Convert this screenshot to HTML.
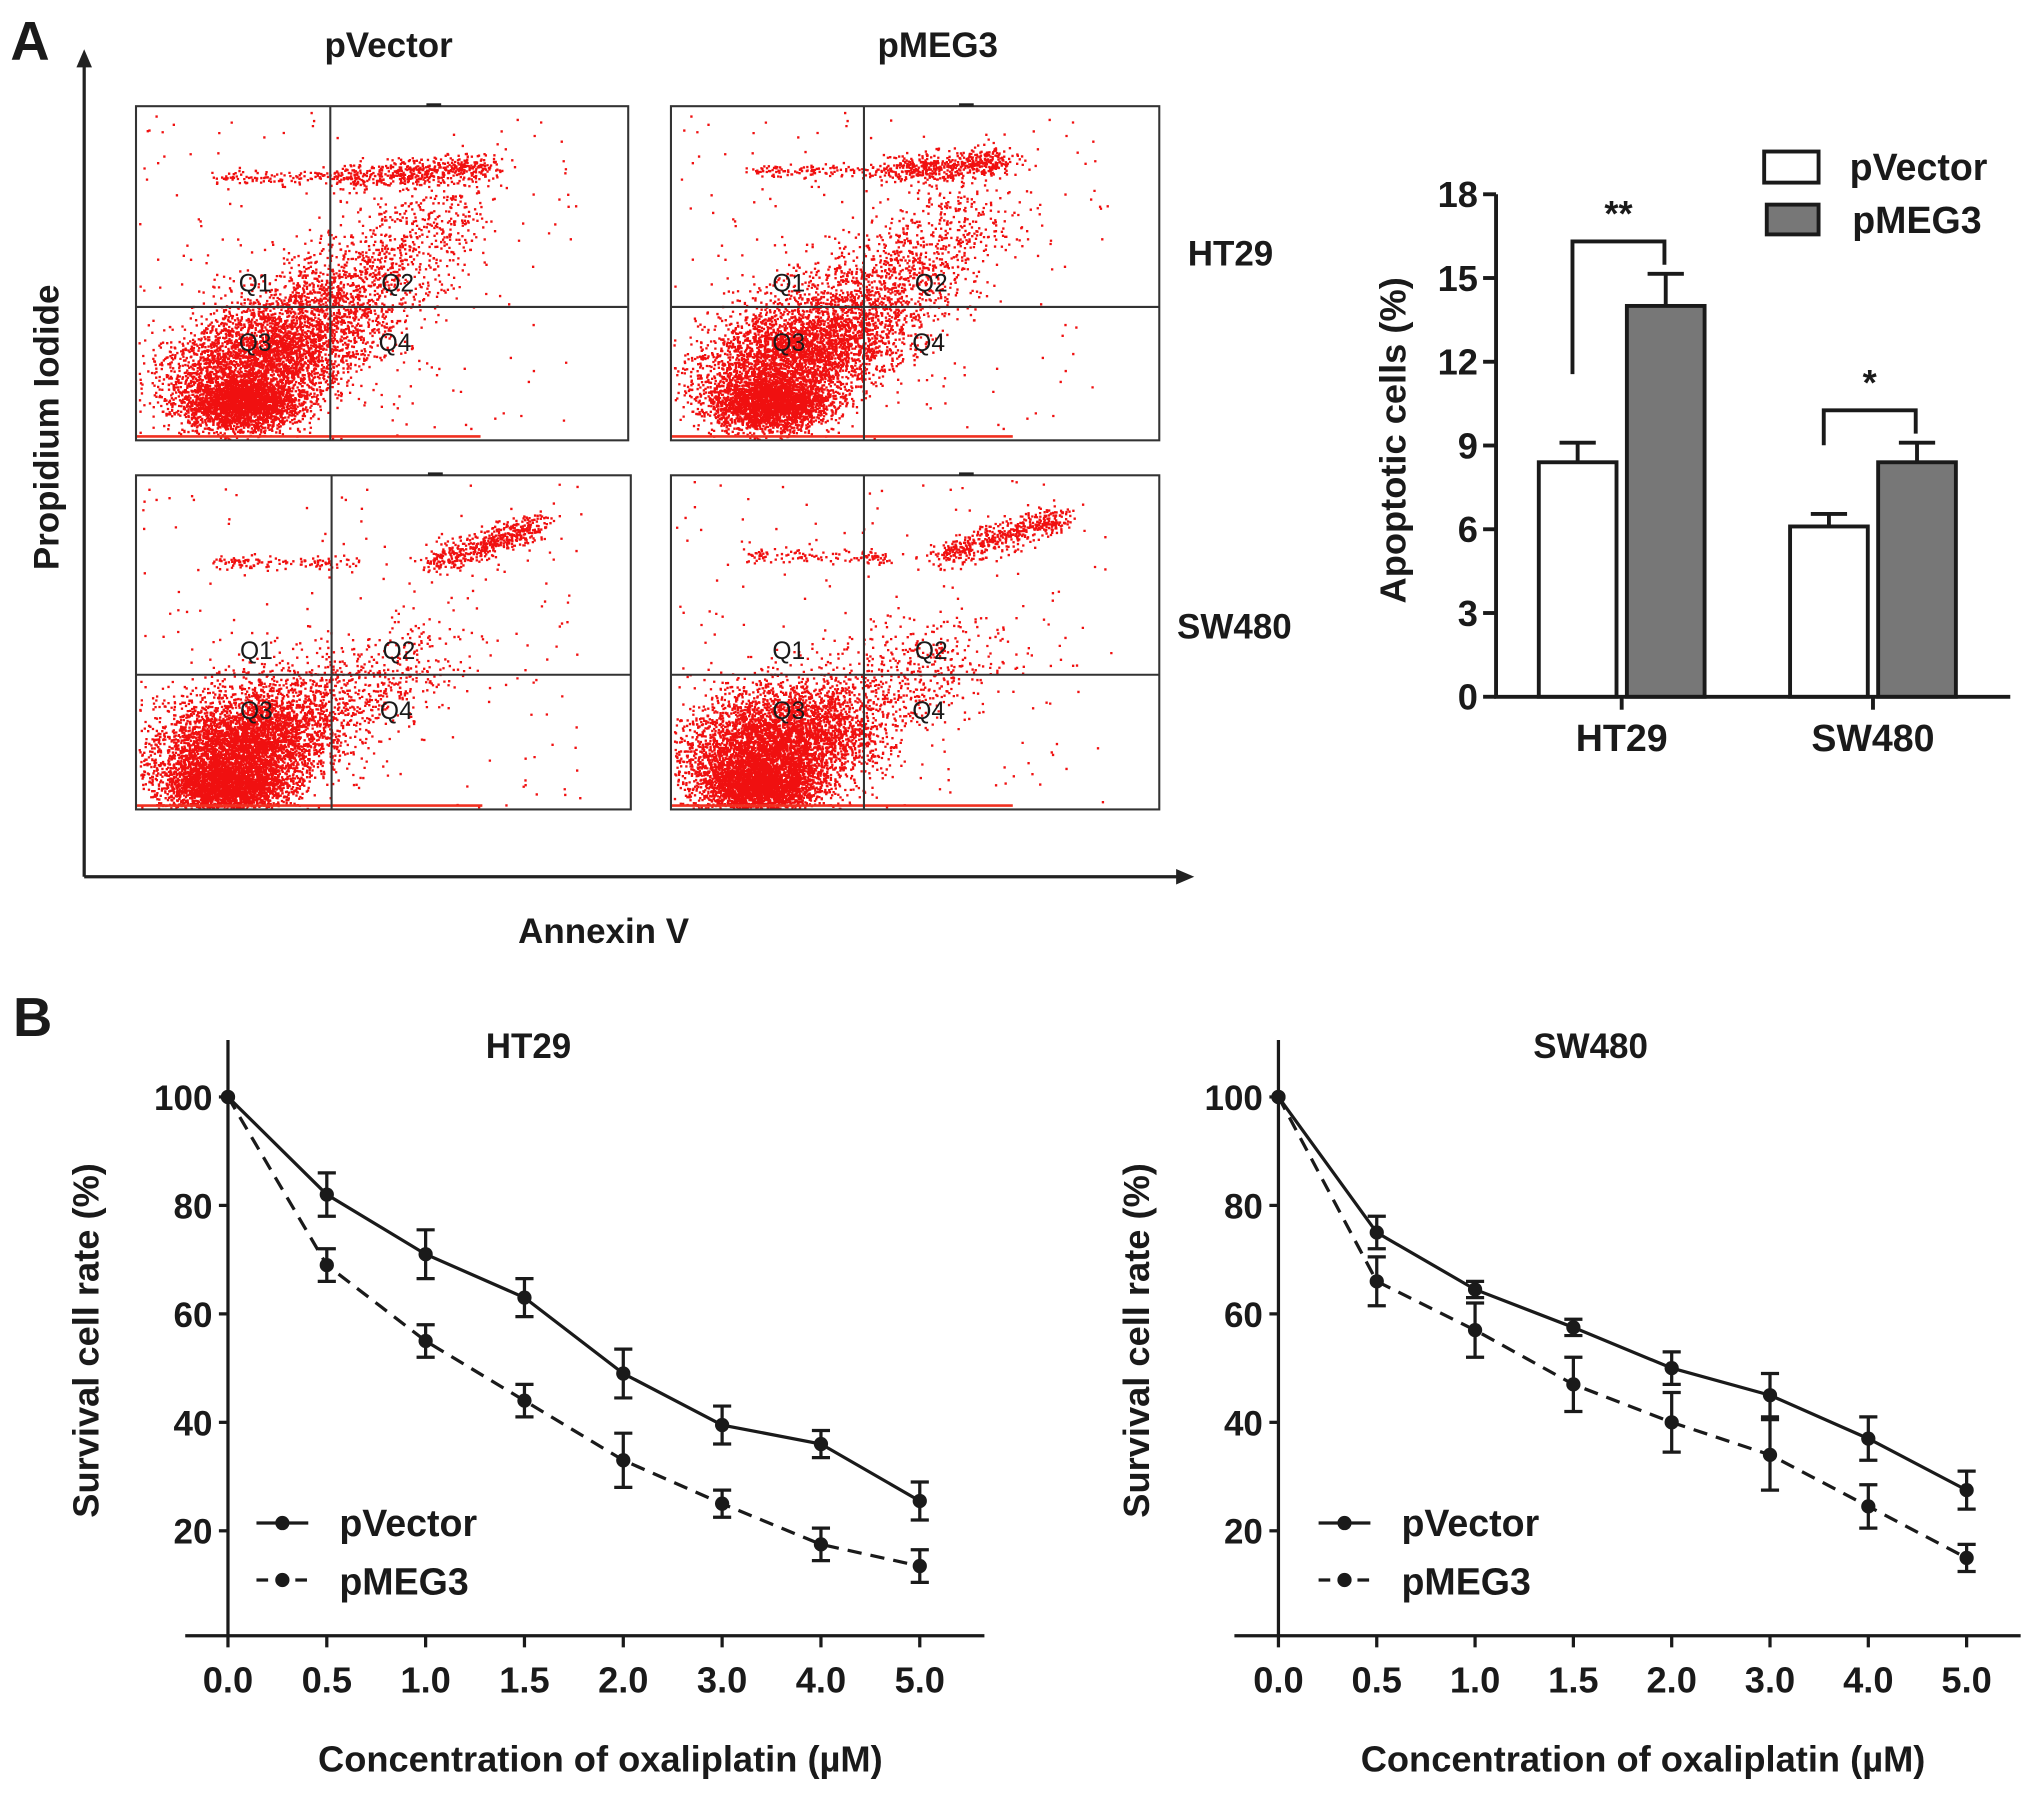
<!DOCTYPE html>
<html><head><meta charset="utf-8"><style>
html,body{margin:0;padding:0;background:#fff;}
svg{display:block;}
text{font-family:"Liberation Sans",Arial,sans-serif;font-weight:bold;fill:#1a1a1a;}
</style></head><body>
<svg id="fig" width="2031" height="1795" viewBox="0 0 1568 1386" preserveAspectRatio="none" xmlns="http://www.w3.org/2000/svg">
<rect width="1568" height="1386" fill="#fff"/>
<text x="8" y="46" font-size="42">A</text>
<text x="10" y="800" font-size="42">B</text>
<g id="flow">
<line x1="65" y1="677" x2="65" y2="44" stroke="#222" stroke-width="2.5"/>
<path d="M59,52 L65,38 L71,52 Z" fill="#222"/>
<line x1="65" y1="677" x2="914" y2="677" stroke="#222" stroke-width="2.5"/>
<path d="M908,671 L922,677 L908,683 Z" fill="#222"/>
<text transform="translate(45,330) rotate(-90)" text-anchor="middle" font-size="27">Propidium Iodide</text>
<text x="466" y="728" text-anchor="middle" font-size="27">Annexin V</text>
<text x="300" y="44" text-anchor="middle" font-size="27">pVector</text>
<text x="724" y="44" text-anchor="middle" font-size="27">pMEG3</text>
<text x="950" y="205" text-anchor="middle" font-size="27">HT29</text>
<text x="953" y="493" text-anchor="middle" font-size="27">SW480</text>
</g>
<g id="bar"></g>
<g id="lineA"></g>
<g id="lineB"></g>
</svg>
<script>
const NS="http://www.w3.org/2000/svg";
// ---- bar chart data ----
const barCategories=["HT29","SW480"];
const barVector=[8.4,6.1];
const barVectorErr=[0.7,0.45];
const barMEG3=[14.0,8.4];
const barMEG3Err=[1.15,0.7];
const barTicks=[0,3,6,9,12,15,18];
const barSig=["**","*"];
// ---- survival data ----
const doseLabels=["0.0","0.5","1.0","1.5","2.0","3.0","4.0","5.0"];
const survTicks=[20,40,60,80,100];
const ht29Vector=[100,82,71,63,49,39.5,36,25.5];
const ht29VectorErr=[0,4,4.5,3.5,4.5,3.5,2.5,3.5];
const ht29MEG3=[100,69,55,44,33,25,17.5,13.5];
const ht29MEG3Err=[0,3,3,3,5,2.5,3,3];
const sw480Vector=[100,75,64.5,57.5,50,45,37,27.5];
const sw480VectorErr=[0,3,1.5,1.5,3,4,4,3.5];
const sw480MEG3=[100,66,57,47,40,34,24.5,15];
const sw480MEG3Err=[0,4.5,5,5,5.5,6.5,4,2.5];

function el(tag,attrs,parent){const e=document.createElementNS(NS,tag);for(const k in attrs)e.setAttribute(k,attrs[k]);parent.appendChild(e);return e;}

// ---- flow cytometry scatter (image texture) ----
let seed=12345;function rnd(){seed=(seed*1103515245+12345)%2147483648;return seed/2147483648;}
function gauss(){let u=0,v=0;while(u===0)u=rnd();v=rnd();return Math.sqrt(-2*Math.log(u))*Math.cos(2*Math.PI*v);}
const flowPanels=[
 {x:105,y:82,w:380,h:258,qx:150,qy:155,name:"ht29-pvector-plot",c:[0.2,0.83],band:[0.42,0.72,0.21],sw:false},
 {x:518,y:82,w:377,h:258,qx:149,qy:155,name:"ht29-pmeg3-plot",c:[0.19,0.83],band:[0.45,0.68,0.19],sw:false},
 {x:105,y:367,w:382,h:258,qx:151,qy:154,name:"sw480-pvector-plot",c:[0.17,0.87],band:[0.6,0.82,0.26],sw:true},
 {x:518,y:367,w:377,h:258,qx:149,qy:154,name:"sw480-pmeg3-plot",c:[0.17,0.87],band:[0.55,0.8,0.24],sw:true}
];
const flow=document.getElementById('flow');
flowPanels.forEach(p=>{
 const g=el('g',{},flow);
 
 
 el('rect',{x:p.x,y:p.y,width:p.w,height:p.h,fill:'#fff'},g);
 let d="";
 function dot(u,v){if(u<0.005||u>0.995||v<0.01||v>0.995)return;d+="M"+(p.x+u*p.w).toFixed(1)+" "+(p.y+v*p.h).toFixed(1)+"h1.8v1.8h-1.8z";}
 const nMain=p.sw?4200:3600;
 for(let i=0;i<nMain;i++){const a=gauss(),b=gauss();const s=Math.abs(gauss());
   let u=p.c[0]+a*0.09+s*(p.sw?0.05:0.08)*(rnd()<0.5?1:1.3);let v=p.c[1]+b*0.065-s*(p.sw?0.09:0.13);dot(u,v);}
 for(let i=0;i<2200;i++){const a=gauss(),b=gauss();dot(p.c[0]+0.01+a*0.06,p.c[1]+0.06+b*0.04);}
 for(let i=0;i<(p.sw?500:900);i++){const t=rnd();dot(p.c[0]+0.15+t*0.3+gauss()*0.06,p.c[1]-0.15-t*(p.sw?0.2:0.4)+gauss()*0.08);}
 for(let i=0;i<500;i++){const t=rnd();const u=p.band[0]+t*(p.band[1]-p.band[0]);dot(u+gauss()*0.02,p.band[2]-(p.sw?t*0.12:t*0.03)+gauss()*0.02);}
 for(let i=0;i<120;i++){dot(0.15+rnd()*0.3,p.band[2]+gauss()*0.01);}
 for(let i=0;i<200;i++){dot(rnd()*0.9,rnd());}
 el('path',{d:d,fill:'#f01010'},g);
 el('line',{x1:p.x,y1:p.y+p.h-3,x2:p.x+p.w*0.7,y2:p.y+p.h-3,stroke:'#f03020','stroke-width':2},g);
 el('rect',{x:p.x,y:p.y,width:p.w,height:p.h,fill:'none',stroke:'#333','stroke-width':1.6},g);
 el('line',{x1:p.x+p.qx,y1:p.y,x2:p.x+p.qx,y2:p.y+p.h,stroke:'#333','stroke-width':1.6},g);
 el('line',{x1:p.x,y1:p.y+p.qy,x2:p.x+p.w,y2:p.y+p.qy,stroke:'#333','stroke-width':1.6},g);
 el('line',{x1:p.x+p.w*0.59,y1:p.y-1,x2:p.x+p.w*0.62,y2:p.y-1,stroke:'#222','stroke-width':2.5},g);
 [["Q1",-58,-19],["Q2",52,-19],["Q3",-58,27],["Q4",50,27]].forEach(q=>{
   const t=el('text',{x:p.x+p.qx+q[1],y:p.y+p.qy+q[2]+7,'text-anchor':'middle','font-size':19,fill:'#444'},g);
   t.style.fontWeight='normal';t.textContent=q[0];
   
   
 });
});

// ---- bar chart ----
(function(){
 const g=document.getElementById('bar');
 const x0=1155,y0=538,yTop=150,vmax=18;
 const Y=v=>y0-(v/vmax)*(y0-yTop);
 const catX=[1252,1446];
 const bw=60;
 const ax=el('path',{d:`M${x0},${yTop} V${y0} H1552`,fill:'none',stroke:'#1a1a1a','stroke-width':3},g);
 
 
 barTicks.forEach(t=>{
  el('line',{x1:x0-10,y1:Y(t),x2:x0,y2:Y(t),stroke:'#1a1a1a','stroke-width':3},g);
  const tx=el('text',{x:x0-14,y:Y(t)+10,'text-anchor':'end','font-size':28},g);tx.textContent=t;
  
  
 });
 barCategories.forEach((c,i)=>{
  const cx=catX[i];
  el('line',{x1:cx,y1:y0,x2:cx,y2:y0+10,stroke:'#1a1a1a','stroke-width':3},g);
  const tl=el('text',{x:cx,y:y0+42,'text-anchor':'middle','font-size':29},g);tl.textContent=c;
  
  
  const xs=[cx-64,cx+4];const vals=[barVector[i],barMEG3[i]];const errs=[barVectorErr[i],barMEG3Err[i]];
  const fills=['#fff','#777'];
  vals.forEach((v,j)=>{
   const bx=xs[j];
   const tipE=Y(v+errs[j]);
   el('line',{x1:bx+bw/2,y1:Y(v),x2:bx+bw/2,y2:tipE,stroke:'#1a1a1a','stroke-width':3},g);
   el('line',{x1:bx+bw/2-14,y1:tipE,x2:bx+bw/2+14,y2:tipE,stroke:'#1a1a1a','stroke-width':3},g);
   const r=el('rect',{x:bx,y:Y(v),width:bw,height:y0-Y(v),fill:fills[j],stroke:'#1a1a1a','stroke-width':3},g);
   
   
  });
  const lx=xs[0]+bw/2-4,rx=xs[1]+bw/2-1;
  const top=Y(Math.max(barMEG3[i]+barMEG3Err[i],barVector[i]+barVectorErr[i]))-25;
  el('path',{d:`M${lx},${Y(barVector[i]+barVectorErr[i])-53} V${top} H${rx} V${top+18}`,fill:'none',stroke:'#1a1a1a','stroke-width':3},g);
  const st=el('text',{x:(lx+rx)/2,y:top-12,'text-anchor':'middle','font-size':28},g);st.textContent=barSig[i];
  
  
 });
 const yt=el('text',{transform:'translate(1085,340) rotate(-90)','text-anchor':'middle','font-size':28},g);yt.textContent='Apoptotic cells (%)';
 
 
 const lg=el('g',{},g);
 
 
 el('rect',{x:1362,y:117,width:42,height:24,fill:'#fff',stroke:'#1a1a1a','stroke-width':3},lg);
 el('rect',{x:1364,y:158,width:40,height:23,fill:'#777',stroke:'#1a1a1a','stroke-width':3},lg);
 const l1=el('text',{x:1428,y:139,'font-size':29},lg);l1.textContent='pVector';
 const l2=el('text',{x:1430,y:180,'font-size':29},lg);l2.textContent='pMEG3';
})();

// ---- survival charts ----
function survival(gid,ax0,title,titleX,vec,vecE,meg,megE,xLeft,xRight,step,legX){
 const g=document.getElementById(gid);
 const y100=847,y20=1182,yAxis=1263;
 const Y=v=>y100+(100-v)*(y20-y100)/80;
 const X=i=>ax0+i*step;
 el('path',{d:`M${ax0},803 V${yAxis} M${xLeft},${yAxis} H${xRight}`,fill:'none',stroke:'#1a1a1a','stroke-width':2.5},g);
 survTicks.forEach(t=>{
  el('line',{x1:ax0-7,y1:Y(t),x2:ax0,y2:Y(t),stroke:'#1a1a1a','stroke-width':2.5},g);
  const tx=el('text',{x:ax0-12,y:Y(t)+10,'text-anchor':'end','font-size':27},g);tx.textContent=t;
  
  
 });
 doseLabels.forEach((l,i)=>{
  el('line',{x1:X(i),y1:yAxis,x2:X(i),y2:yAxis+9,stroke:'#1a1a1a','stroke-width':2.5},g);
  const tx=el('text',{x:X(i),y:yAxis+44,'text-anchor':'middle','font-size':28},g);tx.textContent=l;
  
  
 });
 function series(vals,errs,dash,name){
  const sg=el('g',{},g);
  
  
  const pts=vals.map((v,i)=>X(i)+','+Y(v)).join(' ');
  const pl=el('polyline',{points:pts,fill:'none',stroke:'#1a1a1a','stroke-width':2.5},sg);
  if(dash)pl.setAttribute('stroke-dasharray','11,7');
  vals.forEach((v,i)=>{
   if(errs[i]>0){
    const a=Y(v+errs[i]),b=Y(v-errs[i]);
    el('path',{d:`M${X(i)},${a} V${b} M${X(i)-7},${a} H${X(i)+7} M${X(i)-7},${b} H${X(i)+7}`,fill:'none',stroke:'#1a1a1a','stroke-width':2.5},sg);
   }
   const c=el('circle',{cx:X(i),cy:Y(v),r:5.5,fill:'#1a1a1a'},sg);
   
   
  });
 }
 series(vec,vecE,false,'pvector-line');
 series(meg,megE,true,'pmeg3-line');
 const lg=el('g',{},g);
 
 
 el('line',{x1:legX,y1:1176,x2:legX+40,y2:1176,stroke:'#1a1a1a','stroke-width':2.5},lg);
 el('circle',{cx:legX+20,cy:1176,r:5.5,fill:'#1a1a1a'},lg);
 el('line',{x1:legX,y1:1220,x2:legX+40,y2:1220,stroke:'#1a1a1a','stroke-width':2.5,'stroke-dasharray':'9,6'},lg);
 el('circle',{cx:legX+20,cy:1220,r:5.5,fill:'#1a1a1a'},lg);
 const t1=el('text',{x:legX+64,y:1186,'font-size':29},lg);t1.textContent='pVector';
 const t2=el('text',{x:legX+64,y:1231,'font-size':29},lg);t2.textContent='pMEG3';
 const tt=el('text',{x:titleX,y:817,'text-anchor':'middle','font-size':27},g);tt.textContent=title;
 
 
 const xt=el('text',{x:(xLeft+xRight)/2+12,y:1368,'text-anchor':'middle','font-size':28},g);xt.textContent='Concentration of oxaliplatin (µM)';
 
 
 const yt=el('text',{transform:`translate(${ax0-100},1035) rotate(-90)`,'text-anchor':'middle','font-size':28},g);yt.textContent='Survival cell rate (%)';
 
 
}
survival('lineA',176,'HT29',408,ht29Vector,ht29VectorErr,ht29MEG3,ht29MEG3Err,143,760,76.3,198);
survival('lineB',987,'SW480',1228,sw480Vector,sw480VectorErr,sw480MEG3,sw480MEG3Err,953,1560,75.9,1018);
</script>
</body></html>
